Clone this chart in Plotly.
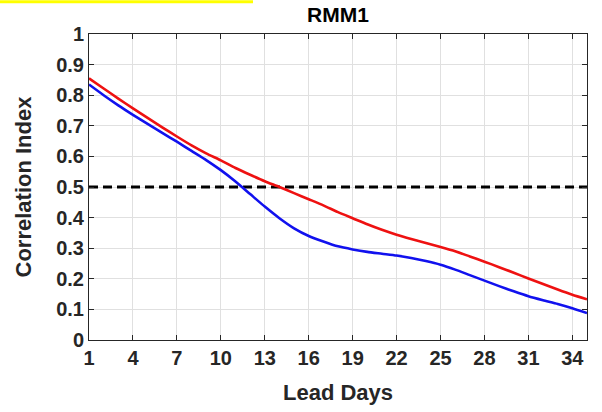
import plotly.graph_objects as go

lead_days = list(range(1, 36))
red_vals = [0.855, 0.822, 0.789, 0.757, 0.726, 0.695, 0.665, 0.636, 0.610, 0.587,
            0.562, 0.540, 0.519, 0.500, 0.480, 0.460, 0.440, 0.418, 0.398, 0.378,
            0.360, 0.344, 0.330, 0.317, 0.304, 0.290, 0.273, 0.256, 0.238, 0.220,
            0.201, 0.183, 0.165, 0.148, 0.133]
blue_vals = [0.835, 0.800, 0.767, 0.736, 0.706, 0.677, 0.648, 0.618, 0.588, 0.555,
             0.518, 0.477, 0.436, 0.398, 0.365, 0.340, 0.322, 0.306, 0.296, 0.288,
             0.282, 0.276, 0.268, 0.258, 0.246, 0.230, 0.212, 0.194, 0.176, 0.159,
             0.143, 0.130, 0.118, 0.104, 0.088]
threshold_x = [1, 35]
threshold_y = [0.5, 0.5]

x_ticks = [1, 4, 7, 10, 13, 16, 19, 22, 25, 28, 31, 34]
y_ticks = [0, 0.1, 0.2, 0.3, 0.4, 0.5, 0.6, 0.7, 0.8, 0.9, 1]
y_ticktext = ["0", "0.1", "0.2", "0.3", "0.4", "0.5", "0.6", "0.7", "0.8", "0.9", "1"]

FONT = "Liberation Sans, Arial, sans-serif"
DARK = "#262626"

fig = go.Figure()
fig.add_trace(go.Scatter(x=threshold_x, y=threshold_y, mode="lines",
                         line=dict(color="black", width=3, dash="9px,5px"),
                         showlegend=False, hoverinfo="skip"))
fig.add_trace(go.Scatter(x=lead_days, y=red_vals, mode="lines",
                         line=dict(color="#ee1111", width=2.6, shape="spline", smoothing=0.6),
                         showlegend=False))
fig.add_trace(go.Scatter(x=lead_days, y=blue_vals, mode="lines",
                         line=dict(color="#1111ee", width=2.6, shape="spline", smoothing=0.6),
                         showlegend=False))

axis_common = dict(
    showline=True, linecolor=DARK, linewidth=1, mirror="allticks",
    ticks="inside", ticklen=5, tickwidth=1, tickcolor=DARK,
    showgrid=True, gridcolor="#e0e0e0", gridwidth=1, zeroline=False,
    tickfont=dict(family=FONT, size=20, color=DARK, weight="bold"),
)

fig.update_xaxes(range=[1, 35], tickvals=x_ticks, ticktext=[str(v) for v in x_ticks],
                 title=dict(text="Lead Days", standoff=16,
                            font=dict(family=FONT, size=22, color=DARK, weight="bold")),
                 **axis_common)
fig.update_yaxes(range=[0, 1], tickvals=y_ticks, ticktext=y_ticktext,
                 title=dict(text="Correlation Index", standoff=18,
                            font=dict(family=FONT, size=22, color=DARK, weight="bold")),
                 **axis_common)

fig.update_layout(
    width=602, height=412,
    margin=dict(l=89, r=15, t=34, b=70),
    paper_bgcolor="white", plot_bgcolor="white",
    title=dict(text="RMM1", x=0.5, xanchor="center", xref="paper", y=0.965, yanchor="middle",
               font=dict(family=FONT, size=21, color="black", weight="bold")),
    shapes=[dict(type="rect", xref="paper", yref="paper",
                 x0=-89 / 498, x1=(253 - 89) / 498,
                 y0=1 + 31 / 308, y1=1 + 34 / 308,
                 fillcolor="#ffff00", line=dict(width=0), layer="above")],
)

fig.write_html("out.html")
